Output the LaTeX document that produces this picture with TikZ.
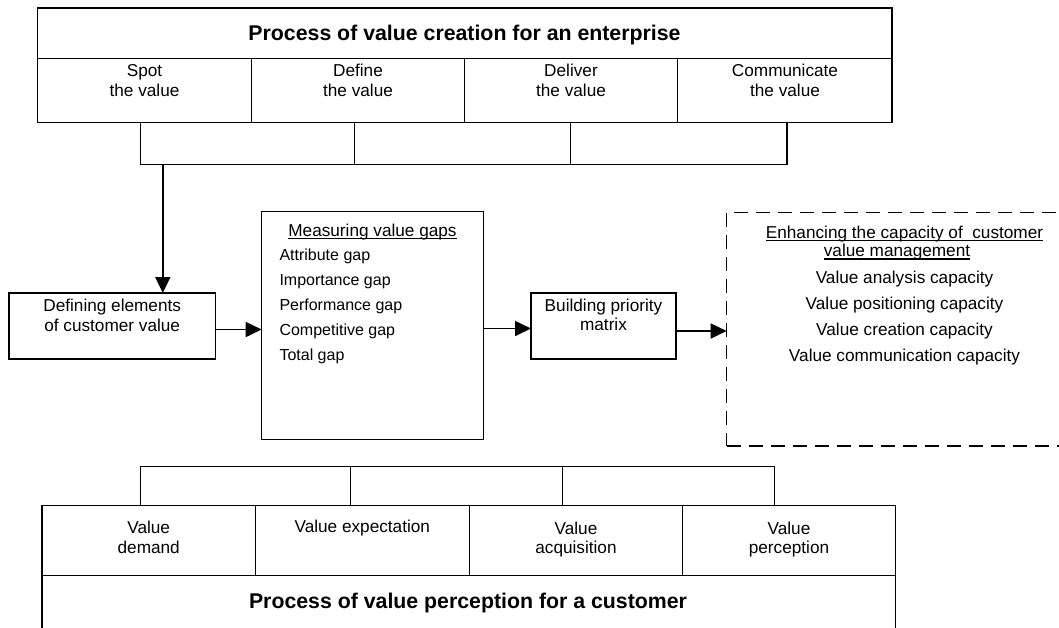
\documentclass[tikz,border=0pt]{standalone}
\usepackage{fontspec}
\setmainfont{Liberation Sans}
\usetikzlibrary{arrows.meta}
\newsavebox\ulbox
\newcommand\myul[1]{\sbox\ulbox{#1}\rlap{\rule[-3.2pt]{\wd\ulbox}{1.2pt}}\usebox\ulbox}
\begin{document}
\begin{tikzpicture}[x=1pt,y=-1pt,
 box/.style={draw, line width=1.3pt, inner sep=0pt, outer sep=0pt, anchor=north west},
 txt/.style={font=\fontsize{17.2}{19.5}\selectfont, align=center, inner sep=0pt},
 itm/.style={font=\fontsize{16}{25}\selectfont, align=left, inner sep=0pt},
 ttl/.style={font=\fontsize{21.3}{25}\selectfont\bfseries, inner sep=0pt, anchor=base},
 brk/.style={line width=1.2pt},
 arr/.style={line width=1.7pt, -{Triangle[length=16pt,width=15pt]}},
]
\useasboundingbox (0,0) rectangle (1059,627);
\fill[white] (0,0) rectangle (1059,627);
\clip (0,0) rectangle (1059,627);

% top process box
\node[box, minimum width=854.5pt, minimum height=50.3pt] (ttitle) at (37.5,8.1) {};
\node[ttl] (ttitlet) at (464.5,40) {Process of value creation for an enterprise};
\node[box, minimum width=213.9pt, minimum height=64.2pt] (spot) at (37.5,58.4) {};
\node[box, minimum width=213.1pt, minimum height=64.2pt] (definev) at (251.4,58.4) {};
\node[box, minimum width=213.3pt, minimum height=64.2pt] (deliver) at (464.5,58.4) {};
\node[box, minimum width=214.2pt, minimum height=64.2pt] (comm) at (677.8,58.4) {};
\node[txt] (spott) at (144.5,80.5) {Spot\\the value};
\node[txt] (definet) at (358,80.5) {Define\\the value};
\node[txt] (delivert) at (571,80.5) {Deliver\\the value};
\node[txt] (commt) at (785,80.5) {Communicate\\the value};

% middle row
\node[box, minimum width=206.1pt, minimum height=66pt] (def) at (9.1,293) {};
\node[txt] (deft) at (112.2,315.4) {Defining elements\\of customer value};
\node[box, minimum width=221.6pt, minimum height=227.6pt] (gaps) at (261.7,211.7) {};
\node[txt, anchor=base] (gapst) at (372.5,236.2) {\myul{Measuring value gaps}};
\node[itm, anchor=west] (gapsi) at (279.3,306.6) {Attribute gap\\Importance gap\\Performance gap\\Competitive gap\\Total gap};
\node[box, minimum width=145pt, minimum height=66pt] (build) at (531,293) {};
\node[txt] (buildt) at (603.5,314.7) {Building priority\\matrix};
\node[box, dashed, dash pattern=on 14pt off 8pt, line width=1.4pt, minimum width=400pt, minimum height=233.3pt] (enh) at (726.7,212.7) {};
\node[txt, font=\fontsize{17.2}{18.3}\selectfont] (enht) at (904.5,242.7) {\myul{Enhancing the capacity of~ customer}\\\myul{value management}\kern15pt};
\node[txt, font=\fontsize{17.2}{26.1}\selectfont] (enhi) at (904.5,317.7) {Value analysis capacity\\Value positioning capacity\\Value creation capacity\\Value communication capacity};

% bottom process box
\node[box, minimum width=213.5pt, minimum height=70.6pt] (vd) at (41.9,505.2) {};
\node[box, minimum width=213.9pt, minimum height=70.6pt] (ve) at (255.4,505.2) {};
\node[box, minimum width=213.4pt, minimum height=70.6pt] (va) at (469.3,505.2) {};
\node[box, minimum width=212.8pt, minimum height=70.6pt] (vp) at (682.7,505.2) {};
\node[box, minimum width=853.6pt, minimum height=90pt] (btitle) at (41.9,575.8) {};
\node[txt] (vdt) at (148.7,537.5) {Value\\demand};
\node[txt, anchor=base] (vet) at (362.3,532.5) {Value expectation};
\node[txt] (vat) at (576,539.3) {Value\\acquisition};
\node[txt] (vpt) at (789,539.3) {Value\\perception};
\node[ttl] (btitlet) at (468,608) {Process of value perception for a customer};

% top bracket
\coordinate (tb1) at (140.2,164.5);
\coordinate (tb2) at (354.7,164.5);
\coordinate (tb3) at (570.5,164.5);
\coordinate (tb4) at (787,164.5);
\coordinate (tbj) at (162.8,164.5);
\draw[brk] (tb1 |- spot.south) -- (tb1) -- (tb4) -- (tb4 |- comm.south);
\draw[brk] (tb2 |- spot.south) -- (tb2);
\draw[brk] (tb3 |- spot.south) -- (tb3);
\draw[arr] (tbj) -- (tbj |- def.north);

% horizontal arrows
\draw[arr] ([yshift=-3.5pt]def.east) -- ([yshift=-3.5pt]def.east -| gaps.west);
\draw[arr] ([yshift=-3pt]gaps.east) -- ([yshift=-3pt]gaps.east -| build.west);
\draw[arr] ([yshift=-5pt]build.east) -- ([yshift=-5pt]build.east -| enh.west);

% bottom bracket
\coordinate (bb1) at (140.2,466.4);
\coordinate (bb2) at (350.7,466.4);
\coordinate (bb3) at (562.1,466.4);
\coordinate (bb4) at (774.6,466.4);
\draw[brk] (bb1 |- vd.north) -- (bb1) -- (bb4) -- (bb4 |- vp.north);
\draw[brk] (bb2 |- vd.north) -- (bb2);
\draw[brk] (bb3 |- vd.north) -- (bb3);
\end{tikzpicture}
\end{document}
